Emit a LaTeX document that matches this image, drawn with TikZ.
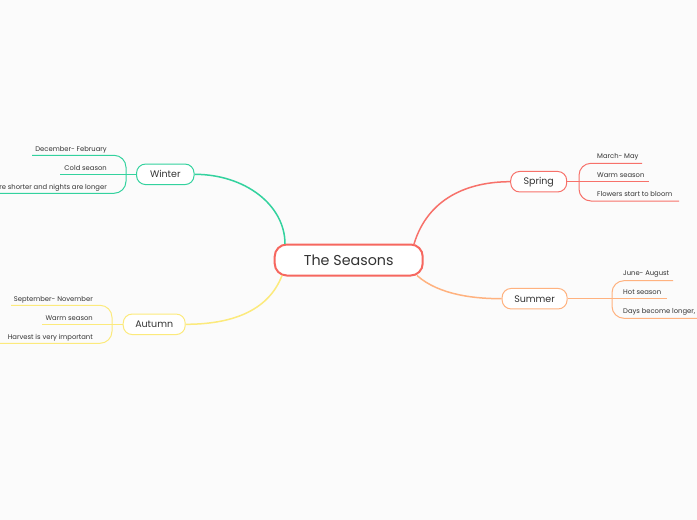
\documentclass[tikz,border=0pt]{standalone}
\usepackage{fontspec}
\setmainfont{Poppins}
\definecolor{bg}{HTML}{FBFBFB}
\definecolor{txt}{HTML}{333333}
\definecolor{rootc}{HTML}{F6675F}
\definecolor{winterc}{HTML}{33D29E}
\definecolor{autumnc}{HTML}{FCEA7C}
\definecolor{springc}{HTML}{F7716A}
\definecolor{summerc}{HTML}{FFB27F}
\tikzset{
  rootbox/.style={draw=rootc, line width=2pt, fill=white, rounded corners=12pt,
    minimum width=148pt, minimum height=31pt, inner sep=0pt, text=txt,
    font=\fontsize{14.3}{16}\selectfont},
  branchbox/.style={draw=#1, line width=1pt, fill=white, rounded corners=9pt,
    minimum height=20.5pt, inner sep=0pt, text=txt,
    font=\fontsize{9.5}{11}\selectfont},
  leafl/.style={anchor=base east, inner sep=0pt, text=txt, font=\fontsize{6.8}{8}\selectfont},
  leafr/.style={anchor=base west, inner sep=0pt, text=txt, font=\fontsize{6.8}{8}\selectfont},
  conn/.style={draw=#1, line width=1.5pt},
  leafline/.style={draw=#1, line width=1pt, rounded corners=12pt},
}
\begin{document}
\begin{tikzpicture}[x=1pt,y=-1pt]
\fill[bg] (0,0) rectangle (697,520);
\useasboundingbox (0,0) rectangle (697,520);
\clip (0,0) rectangle (697,520);

% root
\node[rootbox] (root) at (348.7,260) {The Seasons};

% coordinates for connector ends on root
\coordinate (rw) at (285,244);
\coordinate (ra) at (282,275.5);
\coordinate (rs) at (414,244);
\coordinate (ru) at (417,275.5);

% branch nodes
\node[branchbox=winterc, minimum width=57.5pt] (winter) at (165.3,174.3) {Winter};
\node[branchbox=autumnc, minimum width=62pt] (autumn) at (154.2,324.3) {Autumn};
\node[branchbox=springc, minimum width=56pt] (spring) at (538.7,181.7) {Spring};
\node[branchbox=summerc, minimum width=65pt] (summer) at (534.6,298.7) {Summer};

% connectors root -> branches
\draw[conn=winterc] (rw) .. controls (285,205) and (245,174.3) .. (winter.east);
\draw[conn=autumnc] (ra) .. controls (268,312) and (230,324.3) .. (autumn.east);
\draw[conn=springc] (rs) .. controls (428,198) and (468,181.7) .. (spring.west);
\draw[conn=summerc] (ru) .. controls (440,296) and (478,298.7) .. (summer.west);

% Winter leaves
\node[leafl] (w1) at (107,151.3) {December- February};
\node[leafl] (w2) at (107,170.3) {Cold season};
\node[leafl] (w3) at (107,189.3) {Days are shorter and nights are longer};
\coordinate (w1s) at (32,155.3);
\coordinate (w2s) at (60,174.3);
\coordinate (w3s) at (-5,193.3);
\draw[leafline=winterc] (w1s) -- (126,155.3) -- (126,193.3) -- (w3s);
\draw[leafline=winterc] (w2s) -- (winter.west);

% Autumn leaves
\node[leafl] (a1) at (93,301.3) {September- November};
\node[leafl] (a2) at (93,320.3) {Warm season};
\node[leafl] (a3) at (93,339.3) {Harvest is very important};
\coordinate (a1s) at (11,305.3);
\coordinate (a2s) at (42,324.3);
\coordinate (a3s) at (-5,343.3);
\draw[leafline=autumnc] (a1s) -- (112,305.3) -- (112,343.3) -- (a3s);
\draw[leafline=autumnc] (a2s) -- (autumn.west);

% Spring leaves
\node[leafr] (s1) at (597,158) {March- May};
\node[leafr] (s2) at (597,177) {Warm season};
\node[leafr] (s3) at (597,196) {Flowers start to bloom};
\coordinate (s1e) at (642,163.3);
\coordinate (s2e) at (649,181.7);
\coordinate (s3e) at (679,201);
\draw[leafline=springc] (s1e) -- (579,163.3) -- (579,201) -- (s3e);
\draw[leafline=springc] (spring.east) -- (s2e);

% Summer leaves
\node[leafr] (u1) at (623,275.5) {June- August};
\node[leafr] (u2) at (623,294.5) {Hot season};
\node[leafr] (u3) at (623,313) {Days become longer,};
\coordinate (u1e) at (673,280.7);
\coordinate (u2e) at (667,298.7);
\coordinate (u3e) at (702,318.3);
\draw[leafline=summerc] (u1e) -- (612,280.7) -- (612,318.3) -- (u3e);
\draw[leafline=summerc] (summer.east) -- (u2e);
\end{tikzpicture}
\end{document}
